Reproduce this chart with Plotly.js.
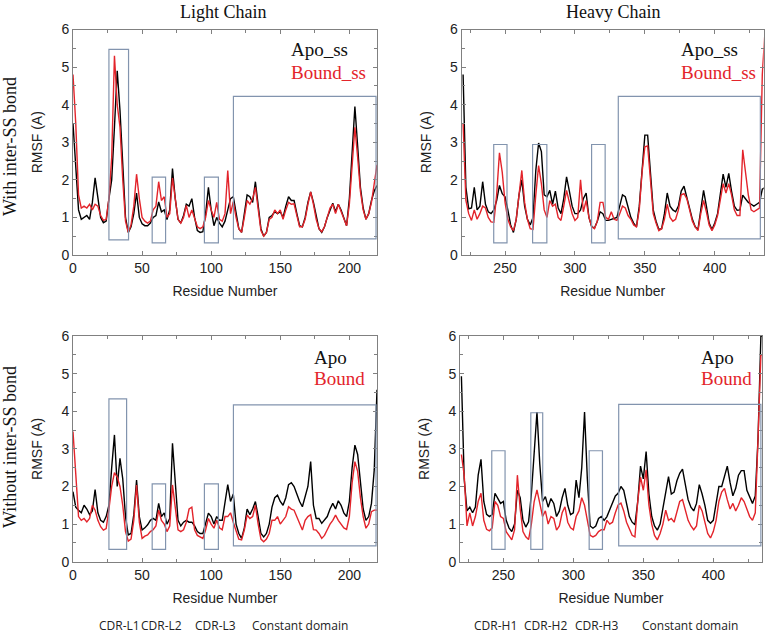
<!DOCTYPE html>
<html>
<head>
<meta charset="utf-8">
<script src="https://cdn.plot.ly/plotly-3.0.1.min.js"></script>
<style>
  html, body { margin: 0; padding: 0; background: #fff; }
  #chart { width: 767px; height: 635px; }
</style>
</head>
<body>
<div id="chart"></div>
<script>
// residue numbers (every 2nd residue)
var lightRes = [];
for (var i = 0; i <= 220; i += 2) lightRes.push(i);
var heavyRes = [];
for (var j = 220; j <= 436; j += 2) heavyRes.push(j);

// light chain, with inter-SS bond
var apoSsLight = [
  3.5, 2.2, 1.2, 0.95, 1.0, 1.05, 0.95, 1.4, 2.05, 1.5,
  1.0, 0.86, 0.9, 1.5, 2.0, 3.4, 4.9, 3.85, 2.4, 1.0,
  0.6, 0.75, 1.1, 1.65, 1.0, 0.83, 0.78, 0.78, 0.85, 1.0,
  1.05, 1.41, 1.15, 1.2, 0.94, 1.2, 2.3, 1.5, 0.95, 0.85,
  1.05, 1.35, 1.3, 1.5, 1.0, 0.65, 0.6, 0.62, 1.1, 1.8,
  1.2, 0.78, 1.0, 0.85, 0.75, 0.9, 1.2, 1.5, 1.55, 1.1,
  0.7, 0.6, 1.1, 1.6, 1.55, 1.4, 1.95, 1.3, 0.7, 0.5,
  0.6, 1.0, 1.05, 1.15, 1.1, 1.15, 1.0, 1.3, 1.55, 1.45,
  1.45, 1.1, 0.78, 0.75, 1.0, 1.4, 1.68, 1.4, 1.0, 0.7,
  0.6, 0.75, 1.0, 1.2, 1.38, 1.15, 1.35, 1.2, 1.0, 0.78,
  1.5, 2.6, 3.95, 2.9, 1.8, 1.25, 0.95, 1.1, 1.45, 1.7,
  1.85
];
var boundSsLight = [
  4.8, 3.5, 1.6, 1.25, 1.3, 1.25, 1.35, 1.2, 1.35, 1.3,
  1.05, 0.92, 0.95, 1.5, 2.6, 5.3, 4.0, 3.4, 2.0, 0.9,
  0.6, 0.8, 1.3, 2.15, 1.5, 1.0, 0.9, 0.85, 0.9, 1.2,
  1.3, 1.95, 1.45, 1.55, 1.0, 1.1, 2.05, 1.5, 0.95, 0.85,
  1.0, 1.32, 1.0, 1.2, 1.0, 0.75, 0.7, 0.75, 1.0, 1.45,
  1.2, 1.0, 1.4, 0.95, 0.9, 1.1, 2.25, 1.1, 1.42, 1.0,
  0.7, 0.6, 1.0, 1.45, 1.35, 1.5, 1.8, 1.2, 0.65, 0.5,
  0.6, 0.95, 1.0, 1.2, 1.1, 1.2, 0.95, 1.2, 1.4, 1.35,
  1.36, 1.05, 0.75, 0.75, 0.95, 1.35, 1.68, 1.35, 0.95, 0.7,
  0.62, 0.75, 1.0, 1.25, 1.35, 1.1, 1.35, 1.15, 1.0, 0.78,
  1.35, 2.3, 3.4, 2.6, 1.7, 1.2, 0.95, 1.1, 1.4, 1.9,
  2.4
];

// heavy chain, with inter-SS bond
var apoSsHeavy = [
  4.8, 1.8, 1.23, 1.25, 1.8, 1.2, 1.3, 1.95, 1.35, 1.15,
  1.1, 1.2, 1.45, 1.85, 1.63, 1.55, 1.2, 0.8, 0.6, 0.95,
  1.6, 2.0, 1.3, 0.95, 0.8, 1.0, 2.25, 2.98, 2.75, 1.6,
  1.55, 1.72, 1.35, 1.7, 1.25, 1.1, 1.5, 2.08, 1.7, 1.3,
  1.1, 1.1, 1.2, 1.5, 1.65, 1.0, 0.75, 0.72, 0.9, 1.15,
  1.1, 0.92, 0.92, 0.95, 0.96, 1.0, 1.3, 1.6, 1.55, 1.3,
  1.0, 0.85, 0.75, 1.3, 2.3, 3.19, 3.19, 2.1, 1.2, 0.9,
  0.68, 0.7, 1.1, 1.65, 1.3, 1.2, 1.15, 1.3, 1.7, 1.83,
  1.55, 1.3, 0.95, 0.75, 0.68, 1.2, 1.72, 1.3, 0.85, 0.68,
  0.85, 1.1, 1.6, 2.15, 1.8, 2.17, 1.7, 1.3, 1.19, 1.2,
  1.59, 1.5, 1.4, 1.35, 1.3, 1.35, 1.4, 1.75, 1.8
];
var boundSsHeavy = [
  3.5, 1.45, 1.1, 0.92, 1.2, 0.95, 1.1, 1.3, 1.25, 1.0,
  0.88, 0.87, 1.6, 2.72, 2.2, 1.4, 0.95, 0.75, 0.65, 0.95,
  1.6, 2.25, 1.4, 0.95, 0.7, 0.68, 1.6, 2.38, 1.9, 1.2,
  1.0, 1.45, 1.3, 1.35, 1.0, 0.92, 1.3, 1.72, 1.4, 1.1,
  0.92, 1.0, 2.0, 1.15, 1.45, 1.0, 0.75, 0.7, 0.9, 1.4,
  1.4, 1.0, 0.95, 1.15, 0.95, 0.92, 1.1, 1.3, 1.25, 1.05,
  0.95, 0.8, 0.75, 1.2, 2.2, 2.88, 2.9, 2.0, 1.1, 0.85,
  0.65, 0.7, 0.95, 1.35, 1.0, 0.9, 0.95, 1.2, 1.6, 1.63,
  1.5, 1.2, 0.9, 0.75, 0.65, 1.1, 1.45, 1.15, 0.8, 0.65,
  0.8, 1.05, 1.5, 1.9, 1.65, 1.9, 1.6, 1.2, 1.05, 1.05,
  2.8, 2.2, 1.6, 1.2, 1.15, 1.2, 1.25, 4.8, 6.0
];

// light chain, without inter-SS bond
var apoLight = [
  1.86, 1.45, 1.37, 1.3, 1.5, 1.4, 1.25, 1.35, 1.92, 1.3,
  1.1, 1.05, 1.2, 1.5, 2.5, 3.37, 2.0, 2.75, 2.2, 1.2,
  0.71, 0.75, 1.25, 2.17, 1.2, 0.84, 0.9, 0.98, 1.1, 1.15,
  1.1, 1.55, 1.2, 1.3, 1.0, 1.15, 3.15, 2.0, 1.1, 0.95,
  1.05, 1.1, 1.05, 1.05, 0.95, 0.8, 0.75, 0.75, 1.0, 1.29,
  1.2, 1.0, 1.2, 1.1, 1.1, 1.6, 2.05, 1.6, 1.8, 1.0,
  0.75, 0.62, 0.9, 1.4, 1.25, 1.4, 1.6, 1.2, 0.75, 0.66,
  0.75, 1.0, 1.45, 1.7, 1.77, 1.6, 1.5, 1.7, 2.05, 2.1,
  2.0, 1.8, 1.6, 1.46, 1.7, 2.0, 2.66, 1.5, 1.15, 1.15,
  1.02, 1.1, 1.2, 1.4, 1.55, 1.4, 1.62, 1.5, 1.3, 1.2,
  1.6, 2.5, 3.1, 2.85, 2.1, 1.4, 1.1, 1.2, 1.55, 2.44,
  4.57
];
var boundLight = [
  3.46, 2.2, 1.2, 1.1, 1.15, 1.06, 1.15, 1.5, 1.37, 1.1,
  0.93, 0.84, 0.88, 1.4, 2.0, 2.37, 2.25, 2.0, 1.5, 0.8,
  0.55, 0.6, 1.1, 2.04, 1.05, 0.62, 0.68, 0.71, 0.8, 0.85,
  0.95, 1.37, 1.1, 1.0, 0.8, 0.95, 2.04, 1.45, 0.85, 0.8,
  0.85, 1.05, 1.4, 1.45, 0.85, 0.7, 0.66, 0.62, 0.85, 1.15,
  1.0, 0.89, 1.1, 0.9, 0.85, 1.2, 1.2, 1.3, 1.05, 0.85,
  0.6, 0.58, 0.85, 1.24, 1.15, 1.2, 1.5, 1.0, 0.6, 0.53,
  0.6, 0.75, 1.1, 1.1, 1.2, 1.0, 1.1, 1.2, 1.46, 1.4,
  1.37, 1.2, 1.0, 0.84, 1.1, 1.2, 1.25, 0.85, 0.84, 0.75,
  0.62, 0.7, 0.85, 1.0, 1.1, 1.24, 1.1, 1.0, 0.9, 0.86,
  1.2, 2.1, 2.66, 2.4, 1.7, 1.2, 0.89, 1.0, 1.33, 1.37,
  1.37
];

// heavy chain, without inter-SS bond
var apoHeavy = [
  4.93, 2.2, 1.35, 1.45, 1.3, 1.45, 2.3, 2.72, 1.6, 1.26,
  1.2, 1.25, 1.82, 1.7, 1.55, 1.6, 1.1, 0.9, 0.8, 1.0,
  1.9, 1.7, 1.1, 0.92, 1.06, 1.8, 2.9, 3.98, 2.6, 1.6,
  1.73, 1.45, 1.68, 1.55, 1.2, 1.35, 1.7, 1.95, 1.5, 1.25,
  1.3, 2.17, 1.7, 2.5, 3.98, 2.2, 0.95, 0.89, 0.95, 1.15,
  1.2, 1.1, 1.2, 1.4, 1.56, 1.75, 1.82, 2.0, 1.9, 1.5,
  1.2, 1.05, 0.98, 1.6, 2.54, 2.2, 2.93, 1.8, 1.2, 0.95,
  0.84, 1.0, 1.4, 1.85, 2.26, 1.8, 1.85, 2.15, 2.35, 2.46,
  2.0, 1.65, 1.45, 1.35, 1.55, 2.05, 1.8, 1.5, 1.1, 1.02,
  1.1, 1.5, 2.0, 2.0, 2.3, 2.54, 2.1, 1.75, 1.95, 2.3,
  2.42, 2.42, 1.9, 1.7, 1.55, 1.75, 3.3, 6.0, 6.0
];
var boundHeavy = [
  2.85, 2.3, 0.95, 1.3, 0.95, 1.2, 1.6, 1.82, 1.1, 0.86,
  0.82, 0.9, 1.6, 1.5, 1.2, 1.15, 0.8, 0.7, 0.58, 0.85,
  2.3, 1.4, 0.8, 0.66, 0.59, 1.0, 1.6, 1.91, 1.5, 1.2,
  1.35, 1.0, 1.2, 1.15, 0.84, 0.95, 1.3, 1.46, 1.05, 0.9,
  0.85, 1.2, 1.35, 1.7, 1.5, 1.05, 0.7, 0.66, 0.7, 0.8,
  0.85, 0.85, 1.1, 1.0, 1.05, 1.3, 1.51, 1.56, 1.35, 1.05,
  0.85, 0.7, 0.66, 1.6, 2.25, 1.9, 2.44, 1.5, 1.0, 0.7,
  0.58, 0.75, 1.0, 1.37, 1.1, 1.15, 1.05, 1.35, 1.6, 1.65,
  1.4, 1.1, 0.95, 0.85, 0.95, 1.5, 1.35, 1.05, 0.75, 0.63,
  0.8, 1.1, 1.6, 1.85, 1.95, 1.65, 1.4, 1.55, 1.35, 1.5,
  1.7, 1.6, 1.4, 1.2, 1.1, 1.3, 3.3, 5.5, 5.5
];

// CDR / constant domain boxes: [first residue, last residue, low, high]
var regionsSsLight = [[26, 40.2, 0.4, 5.47], [57.3, 67, 0.32, 2.07], [95.1, 105.2, 0.32, 2.07], [116.1, 219.3, 0.43, 4.22]];
var regionsSsHeavy = [[241.9, 251.4, 0.32, 2.94], [269.7, 279.9, 0.32, 2.94], [311.9, 321.6, 0.32, 2.94], [331, 432.6, 0.43, 4.22]];
var regionsLight = [[26, 38.8, 0.33, 4.33], [57.3, 67, 0.33, 2.07], [95.1, 105.2, 0.33, 2.07], [116.1, 219.3, 0.42, 4.17]];
var regionsHeavy = [[241.7, 251.2, 0.33, 2.95], [269.6, 278.1, 0.33, 3.96], [311.3, 320.8, 0.33, 2.95], [332.4, 434, 0.42, 4.18]];

var W = 767, H = 635;
function px(x) { return x / W; }
function py(y) { return 1 - y / H; }

var black = '#000000';
var red = '#e3242b';
var boxColor = '#8294ae';

function line(x, y, color, xa, ya) {
  return { x: x, y: y, type: 'scatter', mode: 'lines', xaxis: xa, yaxis: ya,
    line: { color: color, width: 1.4 }, hoverinfo: 'skip' };
}

var data = [
  line(lightRes, apoSsLight, black, 'x', 'y'),
  line(lightRes, boundSsLight, red, 'x', 'y'),
  line(heavyRes, apoSsHeavy, black, 'x2', 'y2'),
  line(heavyRes, boundSsHeavy, red, 'x2', 'y2'),
  line(lightRes, apoLight, black, 'x3', 'y3'),
  line(lightRes, boundLight, red, 'x3', 'y3'),
  line(heavyRes, apoHeavy, black, 'x4', 'y4'),
  line(heavyRes, boundHeavy, red, 'x4', 'y4')
];

var tickFont = { family: 'Liberation Sans, Arial, sans-serif', size: 14, color: '#222' };

function xAxis(domain, range, anchor) {
  return {
    domain: domain, range: range, anchor: anchor,
    tick0: 0, dtick: 50, ticks: 'inside', ticklen: 4, tickcolor: '#808080',
    minor: { ticks: 'inside', ticklen: 3, dtick: 25, tickcolor: '#808080' },
    showline: true, linecolor: '#808080', linewidth: 1, mirror: 'ticks',
    showgrid: false, zeroline: false, tickfont: tickFont,
    title: { text: 'Residue Number', font: { family: 'Liberation Sans, Arial, sans-serif', size: 14, color: '#222' }, standoff: 11 }
  };
}
function yAxis(domain, anchor) {
  return {
    domain: domain, range: [0, 6], anchor: anchor,
    tick0: 0, dtick: 1, ticks: 'inside', ticklen: 4, tickcolor: '#808080',
    minor: { ticks: 'inside', ticklen: 3, dtick: 0.5, tickcolor: '#808080' },
    showline: true, linecolor: '#808080', linewidth: 1, mirror: 'ticks',
    showgrid: false, zeroline: false, tickfont: tickFont,
    title: { text: 'RMSF (A)', font: { family: 'Liberation Sans, Arial, sans-serif', size: 14, color: '#222' }, standoff: 15 }
  };
}

var shapes = [];
function addBoxes(regions, xa, ya) {
  regions.forEach(function (r) {
    shapes.push({ type: 'rect', xref: xa, yref: ya, x0: r[0], x1: r[1], y0: r[2], y1: r[3],
      line: { color: boxColor, width: 1.2 }, fillcolor: 'rgba(0,0,0,0)' });
  });
}
addBoxes(regionsSsLight, 'x', 'y');
addBoxes(regionsSsHeavy, 'x2', 'y2');
addBoxes(regionsLight, 'x3', 'y3');
addBoxes(regionsHeavy, 'x4', 'y4');

var serif = 'Liberation Serif, Times New Roman, serif';
var sans = 'Open Sans, Liberation Sans, sans-serif';
function note(text, x, y, opts) {
  var a = { text: text, x: px(x), y: py(y), xref: 'paper', yref: 'paper', showarrow: false,
    xanchor: 'left', yanchor: 'middle', font: { family: serif, size: 19, color: '#111' } };
  for (var k in opts) a[k] = opts[k];
  return a;
}

var annotations = [
  note('Light Chain', 224, 12, { xanchor: 'center', font: { family: serif, size: 18, color: '#111' } }),
  note('Heavy Chain', 613, 12, { xanchor: 'center', font: { family: serif, size: 18, color: '#111' } }),
  note('With inter-SS bond', 10, 147, { xanchor: 'center', textangle: -90, font: { family: serif, size: 18, color: '#111' } }),
  note('Without inter-SS bond', 10, 447, { xanchor: 'center', textangle: -90, font: { family: serif, size: 18, color: '#111' } }),
  note('Apo_ss', 289, 50, {}),
  note('Bound_ss', 289, 72, { font: { family: serif, size: 19, color: red } }),
  note('Apo_ss', 679, 50, {}),
  note('Bound_ss', 679, 72, { font: { family: serif, size: 19, color: red } }),
  note('Apo', 312, 357, {}),
  note('Bound', 312, 378, { font: { family: serif, size: 19, color: red } }),
  note('Apo', 699, 357, {}),
  note('Bound', 699, 378, { font: { family: serif, size: 19, color: red } }),
  note('CDR-L1', 97, 625, { font: { family: sans, size: 12, color: '#222' } }),
  note('CDR-L2', 139, 625, { font: { family: sans, size: 12, color: '#222' } }),
  note('CDR-L3', 193, 625, { font: { family: sans, size: 12, color: '#222' } }),
  note('Constant domain', 250, 625, { font: { family: sans, size: 12, color: '#222' } }),
  note('CDR-H1', 472, 625, { font: { family: sans, size: 12, color: '#222' } }),
  note('CDR-H2', 522, 625, { font: { family: sans, size: 12, color: '#222' } }),
  note('CDR-H3', 573, 625, { font: { family: sans, size: 12, color: '#222' } }),
  note('Constant domain', 640, 625, { font: { family: sans, size: 12, color: '#222' } })
];

var layout = {
  width: W, height: H,
  margin: { l: 0, r: 0, t: 0, b: 0 },
  paper_bgcolor: '#fff', plot_bgcolor: '#fff',
  showlegend: false,
  xaxis: xAxis([px(73), px(377)], [0, 220], 'y'),
  yaxis: yAxis([py(255), py(29.5)], 'x'),
  xaxis2: xAxis([px(461.7), px(763.7)], [219, 435], 'y2'),
  yaxis2: yAxis([py(255), py(29.5)], 'x2'),
  xaxis3: xAxis([px(73), px(377)], [0, 220], 'y3'),
  yaxis3: yAxis([py(561.7), py(336)], 'x3'),
  xaxis4: xAxis([px(460), px(762)], [219, 434.8], 'y4'),
  yaxis4: yAxis([py(561.7), py(336)], 'x4'),
  shapes: shapes,
  annotations: annotations
};

Plotly.newPlot('chart', data, layout, { staticPlot: true });
</script>
</body>
</html>
